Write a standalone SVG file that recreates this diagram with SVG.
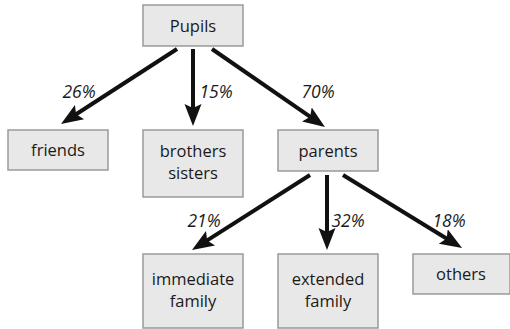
<svg xmlns="http://www.w3.org/2000/svg" width="510" height="329" viewBox="0 0 510 329">
<defs>
<style>
.box{fill:#e8e8e8;stroke:#9a9a9a;stroke-width:1.5}
.lbl{font-family:"Open Sans","Liberation Sans",sans-serif;font-size:16.5px;fill:#1a1a1a;text-anchor:middle}
.pct{font-family:"Open Sans","Liberation Sans",sans-serif;font-size:17.5px;font-style:italic;fill:#1a1a1a;text-anchor:middle}
.edge{stroke:#111;stroke-width:4;fill:none}
</style>
<marker id="ah" markerUnits="userSpaceOnUse" markerWidth="24" markerHeight="20" viewBox="0 0 24 20" refX="10" refY="10" orient="auto">
<path d="M0,1.5 L22,10 L0,18.5 L4,10 Z" fill="#111"/>
</marker>
</defs>
<rect width="510" height="329" fill="#fff"/>
<g id="n-pupils"><rect class="box" x="143" y="5" width="100" height="41"/><text class="lbl" x="193" y="32">Pupils</text></g>
<g id="n-friends"><rect class="box" x="8" y="130" width="100" height="40"/><text class="lbl" x="58" y="156">friends</text></g>
<g id="n-siblings"><rect class="box" x="143" y="130" width="100" height="67"/><text class="lbl" x="193" y="157">brothers</text><text class="lbl" x="193" y="179">sisters</text></g>
<g id="n-parents"><rect class="box" x="278" y="130" width="100" height="41"/><text class="lbl" x="328" y="157">parents</text></g>
<g id="n-immediate"><rect class="box" x="143" y="254" width="100" height="74"/><text class="lbl" x="193" y="285">immediate</text><text class="lbl" x="193" y="307">family</text></g>
<g id="n-extended"><rect class="box" x="278" y="254" width="100" height="74"/><text class="lbl" x="328" y="285">extended</text><text class="lbl" x="328" y="307">family</text></g>
<g id="n-others"><rect class="box" x="413" y="254" width="97" height="40"/><text class="lbl" x="461" y="280">others</text></g>
<g id="connectors">
<line class="edge" x1="177" y1="49" x2="71.1" y2="117.5" marker-end="url(#ah)"/>
<line class="edge" x1="193" y1="49" x2="193" y2="114" marker-end="url(#ah)"/>
<line class="edge" x1="212" y1="49" x2="315.1" y2="120.2" marker-end="url(#ah)"/>
<line class="edge" x1="310" y1="175" x2="202.1" y2="243.6" marker-end="url(#ah)"/>
<line class="edge" x1="327" y1="175" x2="327" y2="238" marker-end="url(#ah)"/>
<line class="edge" x1="343" y1="175" x2="451.8" y2="241.7" marker-end="url(#ah)"/>
<text class="pct" x="79" y="98">26%</text>
<text class="pct" x="216" y="98">15%</text>
<text class="pct" x="318" y="98">70%</text>
<text class="pct" x="204" y="227">21%</text>
<text class="pct" x="348" y="227">32%</text>
<text class="pct" x="449" y="227">18%</text>
</g>
</svg>
